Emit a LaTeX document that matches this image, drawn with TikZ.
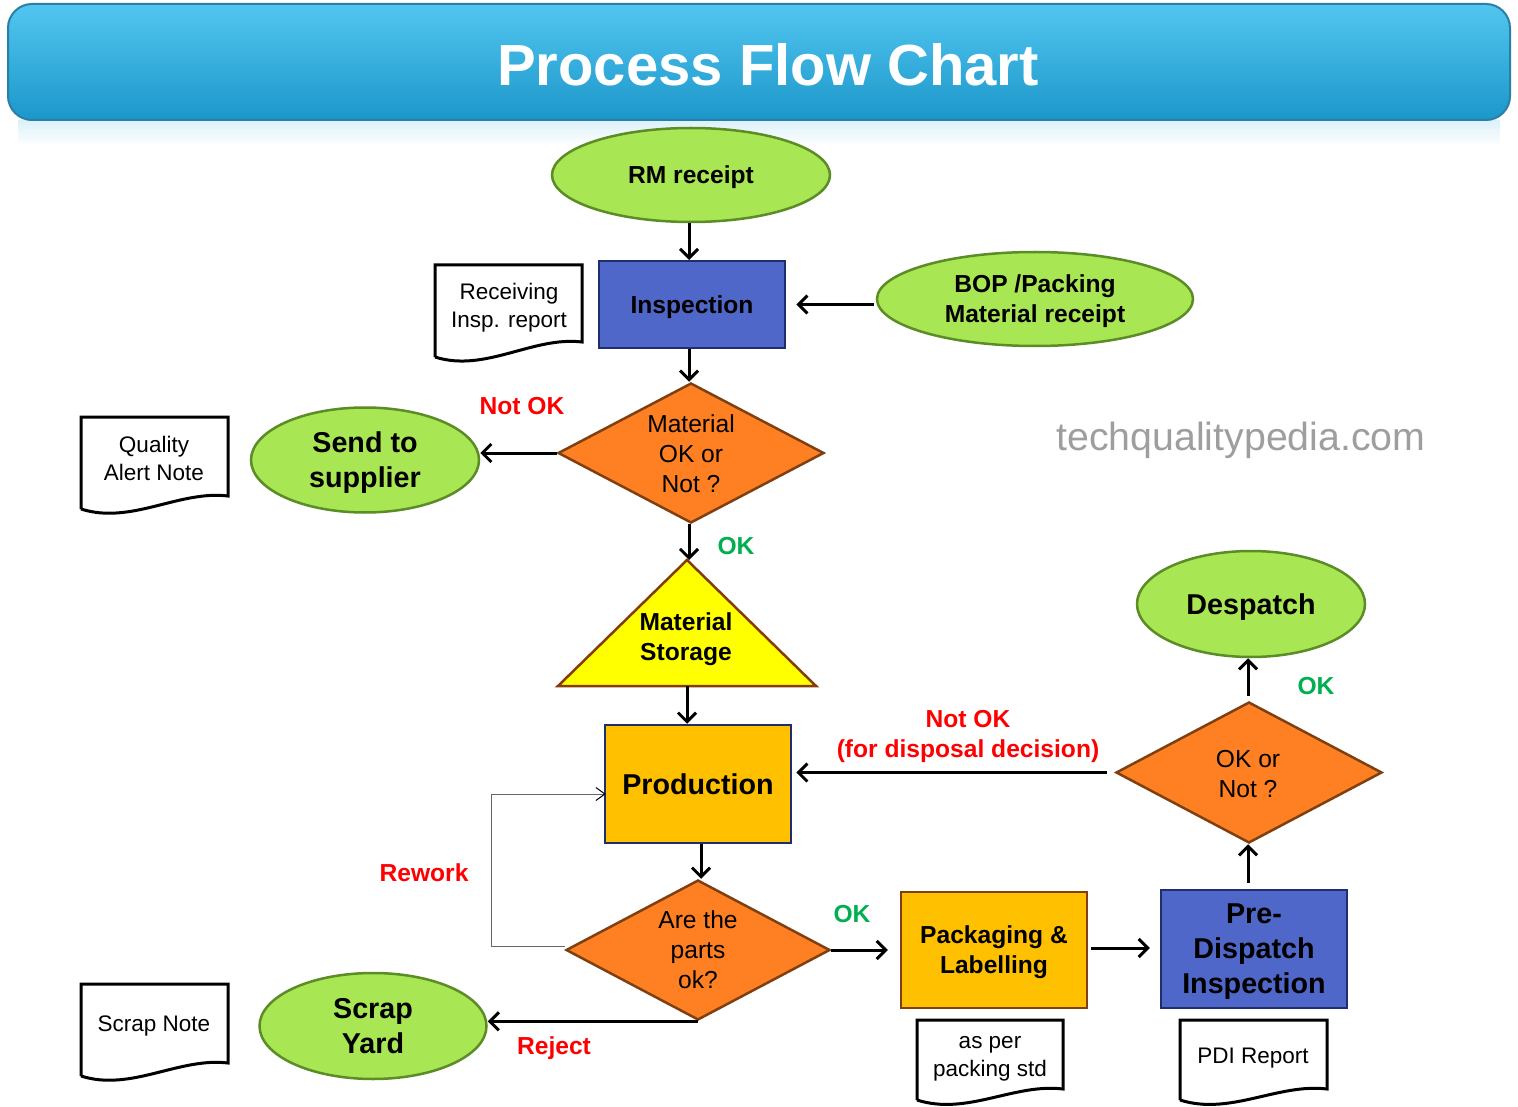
\documentclass[tikz,border=0pt]{standalone}
\usepackage{fontspec}
\setmainfont{Liberation Sans}
\usetikzlibrary{shapes.geometric,arrows.meta}
\definecolor{ellfill}{HTML}{A8E653}
\definecolor{ellborder}{HTML}{5B8C26}
\definecolor{bluefill}{HTML}{4F67C8}
\definecolor{blueborder}{HTML}{1F2F6E}
\definecolor{orfill}{HTML}{FF8022}
\definecolor{orborder}{HTML}{7F3F10}
\definecolor{yelfill}{HTML}{FFFF00}
\definecolor{yelborder}{HTML}{843C0C}
\definecolor{goldfill}{HTML}{FFC000}
\definecolor{redtxt}{HTML}{FF0000}
\definecolor{grntxt}{HTML}{00B050}
\definecolor{webgray}{HTML}{9E9E9E}
\definecolor{titletop}{HTML}{52C6F0}
\definecolor{titlebot}{HTML}{1C97CA}
\definecolor{titleedge}{HTML}{2A7FA6}
\definecolor{reflect}{HTML}{DDF1F9}
\newcommand\fT{\fontsize{58}{66}\selectfont\bfseries}
\newcommand\fB{\fontsize{24.6}{30}\selectfont\bfseries}
\newcommand\fC{\fontsize{28.7}{35}\selectfont\bfseries}
\newcommand\fR{\fontsize{24.6}{30}\selectfont}
\newcommand\fD{\fontsize{22.5}{28}\selectfont}
\newcommand\fW{\fontsize{39.3}{45}\selectfont}
\begin{document}
\begin{tikzpicture}[x=1pt,y=-1pt,
  ell/.style={ellipse, draw=ellborder, fill=ellfill, line width=2.5pt, inner sep=0pt, align=center, text depth=0pt},
  bluebox/.style={rectangle, draw=blueborder, fill=bluefill, line width=2.5pt, inner sep=0pt, align=center, minimum width=186pt, text depth=0pt},
  goldbox/.style={rectangle, fill=goldfill, line width=2.5pt, inner sep=0pt, align=center, minimum width=186pt, text depth=0pt},
  dec/.style={diamond, draw=orborder, fill=orfill, line width=2.5pt, inner sep=0pt},
  dectext/.style={inner sep=0pt, align=center, font=\fR, text depth=0pt},
  docline/.style={draw=black, line width=3pt, fill=white, line join=miter},
  doctext/.style={align=center, font=\fD, inner sep=0pt, text depth=0pt},
  arr/.style={line width=3pt, -{Straight Barb[length=9pt,width=18pt]}},
  rew/.style={draw=black!60, line width=1pt, -{Straight Barb[length=9pt,width=13pt,color=black]}},
  lbl/.style={inner sep=0pt, align=center, font=\fB, text depth=0pt}
]
\useasboundingbox (0,0) rectangle (1518,1107);
\fill[white] (0,0) rectangle (1518,1107);

% title bar
\shade[top color=reflect, bottom color=white] (18,121) rectangle (1500,146);
\shade[top color=titletop, bottom color=titlebot, rounded corners=24pt] (8,4) rectangle (1510,120);
\draw[titleedge, line width=2pt, rounded corners=24pt] (8,4) rectangle (1510,120);
\node[text=white, font=\fT, inner sep=0pt] (title) at (768,65) {Process Flow Chart};

% ellipses
\node[ell, minimum width=278pt, minimum height=94pt, font=\fB] (rm) at (691,175) {RM receipt};
\node[ell, minimum width=316pt, minimum height=94pt, font=\fB] (bop) at (1035,299) {BOP /Packing\\Material receipt};
\node[ell, minimum width=228pt, minimum height=105pt, font=\fC] (send) at (365,460) {Send to\\supplier};
\node[ell, minimum width=227pt, minimum height=106pt, font=\fC] (scrap) at (373,1026) {Scrap\\Yard};
\node[ell, minimum width=228pt, minimum height=106pt, font=\fC] (desp) at (1251,604) {Despatch};

% boxes
\node[bluebox, minimum height=87pt, font=\fB] (insp) at (692,304.5) {Inspection};
\node[goldbox, draw=blueborder, minimum height=118pt, font=\fC] (prod) at (698,784) {Production};
\node[goldbox, draw=orborder, minimum height=116pt, font=\fB] (pack) at (994,950) {Packaging \&\\Labelling};
\node[bluebox, minimum height=118pt, font=\fC] (pdi) at (1254,949) {Pre-\\Dispatch\\Inspection};

% decisions
\node[dec, minimum width=266pt, minimum height=140pt] (dia1) at (691,453) {};
\node[dectext] (dia1t) at (691,454) {Material\\OK or\\Not ?};
\node[dec, minimum width=264pt, minimum height=140pt] (dia2) at (698,950) {};
\node[dectext] (dia2t) at (698,950) {Are the\\parts\\ok?};
\node[dec, minimum width=266pt, minimum height=141pt] (dia3) at (1249,772.5) {};
\node[dectext] (dia3t) at (1248,774) {OK or\\Not ?};

% storage triangle
\coordinate (trit) at (687,560);
\coordinate (tribl) at (558,686);
\coordinate (tribr) at (816,686);
\coordinate (trib) at (687,686);
\draw[draw=yelborder, fill=yelfill, line width=2.5pt, line join=miter] (trit) -- (tribr) -- (tribl) -- cycle;
\node[inner sep=0pt, align=center, font=\fB, text depth=0pt] (stor) at (686,637) {Material\\Storage};

% documents
\draw[docline] (435,357) -- (435,265) -- (582,265) -- (582,342) .. controls (533,336) and (485,373) .. (435,357);
\node[doctext] (rir) at (509,305) {Receiving\\Insp. report};
\draw[docline] (81,509) -- (81,417) -- (228,417) -- (228,496) .. controls (179,490) and (131,525) .. (81,509);
\node[doctext] (qan) at (154,458) {Quality\\Alert Note};
\draw[docline] (81,1076) -- (81,984) -- (228,984) -- (228,1063) .. controls (179,1057) and (131,1092) .. (81,1076);
\node[doctext] (sn) at (154,1024) {Scrap Note};
\draw[docline] (917,1100) -- (917,1020) -- (1063,1020) -- (1063,1089) .. controls (1014,1083) and (967,1116) .. (917,1100);
\node[doctext] (aps) at (990,1056) {as per\\packing std};
\draw[docline] (1180,1100) -- (1180,1020) -- (1327,1020) -- (1327,1089) .. controls (1278,1083) and (1230,1116) .. (1180,1100);
\node[doctext] (pdir) at (1253,1056) {PDI Report};

% connectors
\draw[arr] (rm.south -| 689,0) -- (689,260);
\draw[arr] ([xshift=-2pt]bop.west |- insp.east) -- ([xshift=10pt]insp.east);
\draw[arr] (insp.south -| 689,0) -- (dia1.north -| 689,0);
\draw[arr] (dia1.west) -- (dia1.west -| send.east);
\draw[arr] (dia1.south -| 689,0) -- (trit -| 689,0);
\draw[arr] (trib) -- (trib |- prod.north);
\draw[arr] (prod.south -| 701,0) -- (dia2.north -| 701,0);
\draw[arr] (dia2.east) -- ([xshift=-12pt]pack.west |- dia2.east);
\draw[arr] ([xshift=3pt]pack.east |- 0,948) -- ([xshift=-10pt]pdi.west |- 0,948);
\draw[arr] ([yshift=6pt]pdi.north -| 1248,0) -- (dia3.south -| 1248,0);
\draw[arr] ([yshift=5pt]dia3.north -| 1248,0) -- (desp.south -| 1248,0);
\draw[arr] ([xshift=-8pt]dia3.west) -- ([xshift=4pt]prod.east |- dia3.west);
\draw[arr] (dia2.south) -- (dia2.south -| scrap.east);
\draw[rew] ([yshift=4pt]dia2.west) -- ++(-73,0) |- ([yshift=-10pt,xshift=2pt]prod.west);

% labels
\node[lbl, text=redtxt] (nok1) at (522,406) {Not OK};
\node[lbl, text=grntxt] (ok1) at (736,546) {OK};
\node[lbl, text=grntxt] (ok2) at (1316,686) {OK};
\node[lbl, text=grntxt] (ok3) at (852,914) {OK};
\node[lbl, text=redtxt] (nok2) at (968,734) {Not OK\\(for disposal decision)};
\node[lbl, text=redtxt] (rwk) at (424,873) {Rework};
\node[lbl, text=redtxt] (rej) at (554,1046) {Reject};
\node[inner sep=0pt, text=webgray, font=\fW] (web) at (1241,440) {techqualitypedia.com};
\end{tikzpicture}
\end{document}
